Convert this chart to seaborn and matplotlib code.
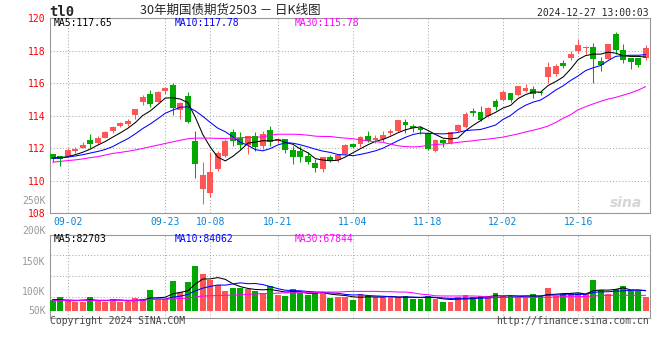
import numpy as np
import pandas as pd
import matplotlib
matplotlib.use('Agg')
import matplotlib.pyplot as plt
import matplotlib.transforms as mtransforms
import seaborn as sns

# --- dados ---
start_date = '2024-08-29'
end_date = '2024-12-27'
holidays = ['2024-09-16', '2024-09-17', '2024-10-01', '2024-10-02',
            '2024-10-03', '2024-10-04', '2024-10-07']
tick_labels = ['09-02', '09-23', '10-08', '10-21', '11-04', '11-18', '12-02', '12-16']

opens = [111.62, 111.52, 111.54, 111.83, 112.03, 112.49, 112.33, 112.64, 113.04, 113.34,
         113.47, 114.01, 114.82, 115.35, 114.86, 115.49, 115.89, 114.36, 115.23, 112.43,
         109.52, 109.27, 110.71, 111.55, 112.97, 112.62, 112.21, 112.77, 112.11, 113.14,
         112.42, 112.58, 111.90, 111.84, 111.53, 111.12, 110.73, 111.43, 111.28, 111.65,
         112.25, 112.25, 112.76, 112.49, 112.58, 112.93, 113.07, 113.63, 113.38, 113.22,
         112.93, 111.81, 112.52, 112.29, 113.07, 113.30, 114.27, 114.21, 113.96, 114.93,
         114.98, 115.41, 115.25, 115.53, 115.63, 115.47, 116.40, 116.56, 117.21, 117.53,
         117.98, 118.18, 118.22, 117.35, 117.49, 118.99, 118.02, 117.57, 117.53, 117.53]
highs = [111.66, 111.55, 111.99, 112.05, 112.37, 112.86, 112.74, 113.04, 113.36, 113.59,
         113.77, 114.42, 115.25, 115.57, 115.49, 115.79, 116.02, 114.82, 115.43, 113.06,
         111.18, 111.74, 111.80, 112.56, 113.18, 113.01, 112.77, 113.01, 113.07, 113.38,
         112.62, 112.58, 112.11, 112.11, 111.74, 111.33, 111.49, 111.57, 111.63, 112.27,
         112.31, 112.76, 113.07, 112.80, 113.07, 113.18, 113.75, 113.81, 113.48, 113.38,
         113.00, 112.56, 112.56, 113.01, 113.51, 114.21, 114.47, 114.58, 114.52, 115.03,
         115.59, 115.41, 115.83, 115.94, 115.83, 115.53, 117.29, 117.15, 117.41, 117.98,
         118.69, 118.28, 118.49, 117.62, 118.38, 119.13, 118.38, 117.57, 117.53, 118.32]
lows = [111.18, 110.90, 111.48, 111.72, 112.01, 112.01, 112.27, 112.62, 112.94, 113.30,
        113.38, 113.77, 114.64, 114.52, 114.82, 115.33, 114.07, 113.77, 113.55, 110.19,
        108.60, 109.02, 110.62, 111.49, 112.11, 111.94, 111.63, 111.82, 111.94, 112.11,
        112.35, 111.70, 111.00, 111.18, 111.04, 110.56, 110.56, 111.18, 111.18, 111.57,
        112.00, 112.06, 112.41, 112.31, 112.41, 112.82, 112.99, 112.93, 112.99, 112.89,
        111.90, 111.77, 112.10, 112.25, 112.97, 113.24, 113.96, 113.65, 113.92, 114.33,
        114.90, 114.86, 115.19, 115.43, 115.06, 115.27, 116.00, 116.44, 116.91, 117.41,
        117.88, 117.78, 116.00, 116.77, 117.49, 117.78, 117.21, 116.89, 117.01, 117.45]
closes = [111.34, 111.34, 111.91, 111.95, 112.21, 112.27, 112.62, 112.98, 113.32, 113.53,
          113.65, 114.38, 115.17, 114.72, 115.47, 115.67, 114.46, 114.78, 113.61, 111.00,
          110.37, 110.54, 111.72, 112.46, 112.42, 112.21, 112.72, 112.07, 112.87, 112.37,
          112.58, 111.90, 111.49, 111.43, 111.18, 110.81, 111.45, 111.28, 111.57, 112.21,
          112.10, 112.68, 112.47, 112.64, 112.82, 113.05, 113.75, 113.40, 113.24, 113.11,
          111.94, 112.52, 112.29, 112.97, 113.44, 114.12, 114.16, 113.75, 114.47, 114.52,
          115.47, 114.94, 115.83, 115.69, 115.35, 115.39, 116.99, 117.05, 117.07, 117.78,
          118.32, 118.22, 117.49, 117.11, 118.38, 118.02, 117.41, 117.29, 117.11, 118.18]

ma5 = [111.40, 111.42, 111.48, 111.60, 111.75, 111.94, 112.19, 112.41, 112.68, 112.94,
       113.22, 113.57, 114.01, 114.29, 114.68, 115.08, 115.10, 115.02, 114.80, 113.90,
       112.84, 112.06, 111.45, 111.22, 111.50, 111.87, 112.31, 112.38, 112.46, 112.45,
       112.52, 112.36, 112.24, 111.95, 111.72, 111.36, 111.27, 111.23, 111.26, 111.46,
       111.72, 111.97, 112.21, 112.42, 112.54, 112.73, 112.95, 113.13, 113.25, 113.31,
       113.09, 112.84, 112.62, 112.57, 112.63, 113.07, 113.40, 113.69, 113.99, 114.20,
       114.47, 114.63, 115.05, 115.29, 115.46, 115.44, 115.85, 116.09, 116.37, 116.86,
       117.44, 117.69, 117.78, 117.78, 117.90, 117.84, 117.68, 117.64, 117.64, 117.60]
ma10 = [111.38, 111.40, 111.45, 111.52, 111.60, 111.70, 111.80, 111.92, 112.10, 112.35,
        112.58, 112.88, 113.21, 113.49, 113.81, 114.15, 114.34, 114.52, 114.54, 114.29,
        113.96, 113.58, 113.23, 113.01, 112.70, 112.36, 112.18, 111.91, 111.84, 111.98,
        112.20, 112.33, 112.31, 112.21, 112.08, 111.94, 111.82, 111.74, 111.61, 111.59,
        111.54, 111.62, 111.72, 111.84, 112.00, 112.23, 112.46, 112.67, 112.84, 112.93,
        112.91, 112.89, 112.88, 112.91, 112.97, 113.08, 113.12, 113.15, 113.28, 113.42,
        113.77, 114.01, 114.37, 114.64, 114.83, 114.96, 115.24, 115.57, 115.83, 116.16,
        116.44, 116.77, 116.94, 117.08, 117.38, 117.64, 117.69, 117.71, 117.71, 117.75]
ma30 = [111.14, 111.19, 111.24, 111.28, 111.34, 111.42, 111.48, 111.58, 111.68, 111.74,
        111.81, 111.89, 111.99, 112.09, 112.19, 112.29, 112.39, 112.49, 112.58, 112.62,
        112.62, 112.62, 112.60, 112.60, 112.62, 112.64, 112.66, 112.66, 112.70, 112.80,
        112.86, 112.86, 112.86, 112.84, 112.80, 112.74, 112.72, 112.72, 112.66, 112.62,
        112.58, 112.52, 112.45, 112.40, 112.36, 112.25, 112.15, 112.10, 112.08, 112.10,
        112.18, 112.22, 112.26, 112.30, 112.36, 112.41, 112.46, 112.52, 112.56, 112.62,
        112.68, 112.78, 112.88, 113.00, 113.10, 113.22, 113.36, 113.58, 113.84, 114.06,
        114.36, 114.55, 114.72, 114.88, 115.02, 115.12, 115.26, 115.40, 115.57, 115.78]

# volume em milhares (escala do eixo do gráfico)
vol_k = [85.0, 90.0, 83.3, 82.2, 82.2, 90.0, 82.8, 82.2, 86.1, 82.2,
         82.2, 88.3, 86.7, 101.7, 85.0, 86.7, 116.7, 98.3, 115.0, 142.2,
         128.9, 117.8, 109.4, 100.0, 105.6, 104.4, 102.8, 100.6, 97.2, 108.3,
         93.9, 91.7, 103.3, 97.2, 93.9, 96.1, 98.3, 88.3, 90.6, 89.4,
         85.0, 95.0, 91.7, 89.4, 89.4, 89.4, 89.4, 91.7, 87.2, 87.2,
         91.7, 87.2, 81.7, 81.7, 90.6, 92.8, 89.4, 91.7, 89.4, 96.7,
         91.7, 91.7, 89.4, 89.4, 95.0, 91.7, 105.0, 91.7, 95.0, 96.7,
         96.7, 95.0, 118.3, 101.7, 95.0, 103.3, 108.3, 100.6, 100.6, 89.4]
vol_ma5_k = [85.8, 85.8, 83.9, 83.9, 84.6, 85.6, 84.2, 83.9, 84.8, 84.8,
             83.2, 84.2, 85.1, 88.2, 88.8, 89.6, 95.3, 97.7, 100.3, 111.6,
             120.0, 120.2, 122.4, 119.4, 112.1, 107.3, 104.3, 102.6, 102.0, 102.6,
             100.4, 98.3, 98.9, 98.9, 96.0, 96.4, 97.7, 94.8, 93.5, 92.5,
             90.3, 89.6, 90.4, 90.1, 90.1, 91.0, 89.9, 89.9, 89.4, 89.0,
             89.4, 89.0, 87.0, 85.9, 86.5, 86.8, 87.2, 89.2, 90.7, 92.0,
             91.8, 92.2, 91.8, 91.8, 91.5, 91.5, 94.1, 94.6, 95.7, 96.0,
             97.0, 95.0, 100.4, 101.7, 101.4, 102.7, 105.3, 101.8, 101.6, 100.4]
vol_ma10_k = [84.9, 84.9, 84.9, 84.4, 84.4, 84.4, 84.4, 84.4, 84.4, 84.7,
              84.4, 84.2, 84.6, 86.5, 86.7, 86.5, 89.8, 91.4, 94.2, 100.2,
              104.8, 107.7, 110.0, 109.8, 111.8, 113.6, 112.2, 112.5, 110.7, 107.4,
              103.9, 101.3, 100.7, 100.4, 99.2, 98.4, 98.0, 96.8, 96.2, 94.3,
              93.4, 93.7, 92.5, 91.8, 91.3, 90.6, 89.8, 90.1, 89.8, 89.5,
              90.2, 89.4, 88.4, 87.7, 87.8, 88.1, 88.1, 88.1, 88.3, 89.3,
              89.3, 89.7, 90.5, 91.3, 91.8, 91.6, 93.2, 93.2, 93.7, 93.7,
              94.2, 94.6, 97.5, 98.7, 98.7, 99.9, 100.2, 101.1, 101.6, 100.9]
vol_ma30_k = [84.4, 84.4, 84.4, 84.4, 84.4, 84.4, 84.4, 84.4, 84.4, 84.4,
              84.4, 84.4, 84.8, 86.1, 86.1, 86.1, 87.0, 87.5, 88.0, 90.0,
              91.7, 92.0, 92.5, 92.8, 93.2, 93.6, 94.5, 95.0, 95.6, 96.0,
              96.5, 97.0, 97.0, 97.2, 97.2, 97.5, 98.0, 98.3, 98.3, 98.9,
              99.4, 99.4, 99.4, 99.4, 98.9, 98.9, 98.3, 98.3, 97.0, 94.8,
              93.9, 92.0, 91.7, 91.7, 91.7, 91.7, 91.7, 91.2, 90.2, 89.8,
              89.4, 89.4, 89.4, 89.4, 89.4, 89.4, 89.4, 90.0, 90.6, 90.6,
              90.6, 91.0, 91.7, 92.3, 92.8, 92.8, 92.8, 92.8, 92.8, 92.8]

title = '30年期国债期货2503 － 日K线图'
code = 'tl0'
stamp = '2024-12-27 13:00:03'
ma_main_text = ['MA5:117.65', 'MA10:117.78', 'MA30:115.78']
ma_vol_text = ['MA5:82703', 'MA10:84062', 'MA30:67844']

# --- estilo ---
sns.set_style('white')
plt.rcParams['font.family'] = ['DejaVu Sans Mono', 'Noto Sans CJK SC', 'DejaVu Sans']

RED = '#ff5555'
GREEN = '#00a800'
GRID = '#aaaaaa'
FRAME = '#999999'
MA_COLORS = ['#000000', '#0000ff', '#ff00ff']
VOL_BASE = 66700   # as barras de volume começam acima da borda inferior
W, H = 660, 360

dates = pd.bdate_range(start_date, end_date).drop(pd.to_datetime(holidays))
x = np.arange(len(dates))
tick_pos = [dates.get_loc(pd.Timestamp('2024-' + t)) for t in tick_labels]

o, hi, lo, c = map(np.array, (opens, highs, lows, closes))
cores = np.where(c >= o, RED, GREEN)
vol = np.array(vol_k) * 1000

fig = plt.figure(figsize=(W / 100, H / 100), dpi=100)


def px_axes(left, top, right, bottom):
    return fig.add_axes([left / W, 1 - bottom / H, (right - left) / W, (bottom - top) / H])


ax = px_axes(50, 18, 650, 213.3)
axv = px_axes(50, 234.5, 650, 318)

# --- candles ---
ax.vlines(x, lo, hi, colors=cores, lw=0.75, zorder=3)
corpo = np.maximum(np.abs(c - o), 0.04)
ax.bar(x, corpo, bottom=np.minimum(o, c), width=0.78, color=cores, lw=0, zorder=3)
for vals, cor in zip((ma5, ma10, ma30), MA_COLORS):
    sns.lineplot(x=x, y=vals, ax=ax, color=cor, lw=0.75, zorder=4, legend=False)

ax.set_xlim(-0.36, 79.58)
ax.set_ylim(108, 120)
ax.set_yticks(np.arange(108, 121, 2))
ax.set_xticks(tick_pos, tick_labels)
ax.tick_params(axis='y', length=0, pad=3, labelsize=7, labelcolor='#ff0000')
ax.tick_params(axis='x', length=0, pad=2.5, labelsize=7, labelcolor='#0a84d6')
ax.grid(True, color=GRID, ls=(0, (1, 2)), lw=0.75, zorder=0)

# --- volume ---
axv.bar(x, vol - VOL_BASE, bottom=VOL_BASE, width=0.78, color=cores, lw=0, zorder=3)
for vals, cor in zip((vol_ma5_k, vol_ma10_k, vol_ma30_k), MA_COLORS):
    sns.lineplot(x=x, y=np.array(vals) * 1000, ax=axv, color=cor, lw=0.75, zorder=4, legend=False)

vlo, vhi = 55000, 194200
axv.set_xlim(-0.36, 79.58)
axv.set_ylim(vlo, vhi)
axv.set_yticks([100000, 150000], ['100K', '150K'])
axv.set_xticks(tick_pos)
axv.tick_params(axis='y', length=0, pad=3, labelsize=7, labelcolor=FRAME)
axv.tick_params(axis='x', length=0, labelbottom=False)
axv.grid(axis='x', color=GRID, ls=(0, (1, 2)), lw=0.75, zorder=0)
axv.grid(axis='y', visible=False)
for frac in (0.25, 0.5, 0.75):
    axv.axhline(vlo + frac * (vhi - vlo), color=GRID, ls=(0, (1, 2)), lw=0.75, zorder=0)

ylab = mtransforms.blended_transform_factory(axv.transAxes, axv.transData)
for v, s in ((200000, '200K'), (250000, '250K')):
    axv.text(-0.0067, v, s, transform=ylab, ha='right', va='center',
             fontsize=7, color=FRAME, clip_on=False)
axv.text(-0.0067, 0.08, '50K', transform=axv.transAxes, ha='right', va='center',
         fontsize=7, color=FRAME)

for a in (ax, axv):
    for sp in a.spines.values():
        sp.set_color(FRAME)
        sp.set_linewidth(0.8)
    a.set_xlabel('')
    a.set_ylabel('')

# --- textos ---
def ftext(px, py, s, **kw):
    fig.text(px / W, 1 - py / H, s, **kw)


ftext(49, 15.7, code, fontsize=10, fontweight='bold', va='baseline')
ftext(140, 10, title, fontsize=9, family=['Noto Sans CJK SC'], color='#222222', va='center')
ftext(649, 15.7, stamp, fontsize=7, ha='right', va='baseline')
for xp, s, cor in zip((54, 175, 295), ma_main_text, MA_COLORS):
    ftext(xp, 26.5, s, fontsize=7, color=cor, va='baseline')
for xp, s, cor in zip((54, 175, 295), ma_vol_text, MA_COLORS):
    ftext(xp, 241.5, s, fontsize=7, color=cor, va='baseline')
ftext(50, 324.5, 'Copyright 2024 SINA.COM', fontsize=7, color='#444444', va='baseline')
ftext(649, 324.5, 'http://finance.sina.com.cn', fontsize=7, color='#444444',
      ha='right', va='baseline')
ftext(626, 203, 'sina', fontsize=10, fontweight='bold', style='italic',
      family=['DejaVu Sans'], color='#d5d5d5', ha='center', va='center')

fig.savefig('out.png', dpi=100)
